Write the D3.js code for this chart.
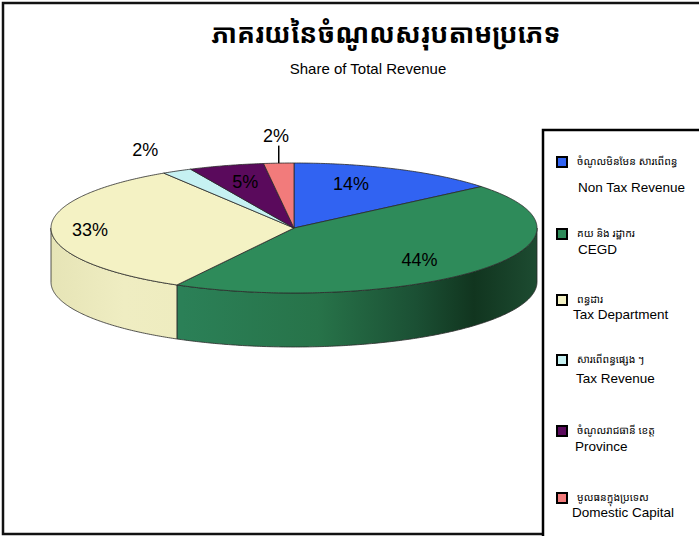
<!DOCTYPE html>
<html>
<head>
<meta charset="utf-8">
<script src="https://cdn.jsdelivr.net/npm/d3@7"></script>
<style>
  body { margin: 0; background: #fff; }
  svg { display: block; }
  text { font-family: "Liberation Sans", Arial, sans-serif; fill: #000; }
  .km { font-family: "Khmer OS", "Noto Sans Khmer", "Khmer OS System", "Noto Sans", sans-serif; }
</style>
</head>
<body>
<svg id="chart"></svg>
<script>
// ───────────────── DATA ─────────────────
const CATEGORIES_KM = [
  "ចំណូលមិនមែន សារពើពន្ធ",
  "គយ និង រដ្ឋាករ",
  "ពន្ធដារ",
  "សារពើពន្ធផ្សេង ៗ",
  "ចំណូលរាជធានី ខេត្ត",
  "មូលធនក្នុងប្រទេស"
];
const CATEGORIES_EN = [
  "Non Tax Revenue",
  "CEGD",
  "Tax Department",
  "Tax Revenue",
  "Province",
  "Domestic Capital"
];
const SHARES = [14, 44, 33, 2, 5, 2];

const TITLE_KM = "ភាគរយនៃចំណូលសរុបតាមប្រភេទ";
const SUBTITLE = "Share of Total Revenue";

// ───────────────── STYLE ─────────────────
const TOP_COLOR = ["#3163f2", "#2e8b5a", "#f4f2c4", "#c6f1f2", "#5a0a5c", "#f27b7b"];
const WALL_COLOR = ["#2550c8", "url(#greenWall)", "url(#yellowWall)", "#a9d8d9", "#3f0640", "#d46060"];

// label placement relative to the ellipse (x factor, y factor)
const LABEL_R = [[0.55, 0.75], [0.67, 0.77], [0.84, 0.8], [1.27, 1.37], [0.72, 0.74], [1.18, 1.42]];

// legend layout
const LEGEND_Y = [157, 229, 295, 355, 426, 493];
const LEGEND_EN_DY = [35, 25, 24, 28, 25, 24];
const LEGEND_EN_X = [578, 578, 573, 576, 575, 572];

// ───────────────── SIZE ─────────────────
const W = 699;
const H = 536;

const cx = 294, cy = 228;
const rx = 243, ry = 65;
const DEPTH = 54;

const svg = d3.select("#chart")
  .attr("width", W)
  .attr("height", H)
  .attr("viewBox", `0 0 ${W} ${H}`);

svg.append("rect")
  .attr("width", W).attr("height", H)
  .attr("fill", "#fff");

// ───── GRADIENTS ─────
const defs = svg.append("defs");

const gGreen = defs.append("linearGradient")
  .attr("id", "greenWall")
  .attr("gradientUnits", "userSpaceOnUse")
  .attr("x1", cx - rx).attr("x2", cx + rx)
  .attr("y1", 0).attr("y2", 0);
[[0.27, "#2b8057"], [0.55, "#277349"], [0.75, "#1b5034"], [0.87, "#11351f"], [1, "#1d4b31"]]
  .forEach(([o, c]) => gGreen.append("stop").attr("offset", o).attr("stop-color", c));

const gYellow = defs.append("linearGradient")
  .attr("id", "yellowWall")
  .attr("gradientUnits", "userSpaceOnUse")
  .attr("x1", cx - rx).attr("x2", cx + rx)
  .attr("y1", 0).attr("y2", 0);
[[0, "#e6e4b6"], [0.15, "#efedc2"], [0.27, "#eeecbf"]]
  .forEach(([o, c]) => gYellow.append("stop").attr("offset", o).attr("stop-color", c));

// ───── SCALES ─────
const xs = d3.scaleLinear().domain([-1, 1]).range([cx - rx, cx + rx]);
const ys = d3.scaleLinear().domain([-1, 1]).range([cy - ry, cy + ry]);

const px = (a, r = 1) => xs(r * Math.sin(a));
const py = (a, r = 1) => ys(-r * Math.cos(a));

const arcs = d3.pie().sort(null).value(d => d)(SHARES);

function arcPoints(a0, a1, dy = 0) {
  const n = Math.max(2, Math.ceil((a1 - a0) / 0.01));
  return d3.range(n + 1).map(i => {
    const a = a0 + (a1 - a0) * i / n;
    return [px(a), py(a) + dy];
  });
}

function topPath(d) {
  const pts = [[cx, cy]].concat(arcPoints(d.startAngle, d.endAngle));
  return d3.line()(pts) + "Z";
}

function wallPath(d) {
  const s = Math.max(d.startAngle, Math.PI / 2);
  const e = Math.min(d.endAngle, Math.PI * 1.5);
  if (e <= s) return null;
  const pts = arcPoints(s, e).concat(arcPoints(s, e, DEPTH).reverse());
  return d3.line()(pts) + "Z";
}

const pie = svg.append("g");

// ───── WALLS ─────
pie.selectAll(".wall")
  .data(arcs.filter(d => wallPath(d)))
  .join("path")
  .attr("class", "wall")
  .attr("d", wallPath)
  .attr("fill", d => WALL_COLOR[d.index])
  .attr("stroke", "#2a2a2a")
  .attr("stroke-width", 0.8)
  .attr("stroke-linejoin", "round");

// ───── TOPS ─────
pie.selectAll(".top")
  .data(arcs)
  .join("path")
  .attr("class", "top")
  .attr("d", topPath)
  .attr("fill", d => TOP_COLOR[d.index])
  .attr("stroke", "#2a2a2a")
  .attr("stroke-width", 0.8)
  .attr("stroke-linejoin", "round");

// ───── LABELS ─────
const mid = d => (d.startAngle + d.endAngle) / 2;

pie.selectAll(".lbl")
  .data(arcs)
  .join("text")
  .attr("class", "lbl")
  .attr("x", d => xs(LABEL_R[d.index][0] * Math.sin(mid(d))))
  .attr("y", d => ys(-LABEL_R[d.index][1] * Math.cos(mid(d))))
  .attr("text-anchor", "middle")
  .attr("dominant-baseline", "central")
  .style("font-size", "18px")
  .text(d => d.data + "%");

// leader line for the small slice on top
const lead = arcs[5];
pie.append("line")
  .attr("x1", px(mid(lead), 1)).attr("y1", py(mid(lead), 1))
  .attr("x2", px(mid(lead), 1)).attr("y2", py(mid(lead), 1.27))
  .attr("stroke", "#000")
  .attr("stroke-width", 1.5);

// ───── TITLE ─────
svg.append("text")
  .attr("class", "km")
  .attr("x", 386).attr("y", 43)
  .attr("text-anchor", "middle")
  .style("font-size", "26.5px")
  .style("font-weight", "700")
  .text(TITLE_KM);

svg.append("text")
  .attr("x", 368).attr("y", 74)
  .attr("text-anchor", "middle")
  .style("font-size", "15px")
  .text(SUBTITLE);

// ───── FRAME (open on the right) ─────
svg.append("path")
  .attr("d", `M${W},3H3V534H${W}`)
  .attr("fill", "none")
  .attr("stroke", "#111")
  .attr("stroke-width", 2.5);

// ───── LEGEND ─────
svg.append("rect")
  .attr("x", 543).attr("y", 130)
  .attr("width", 170).attr("height", 410)
  .attr("fill", "#fff")
  .attr("stroke", "#000")
  .attr("stroke-width", 2.5);

const leg = svg.selectAll(".leg")
  .data(CATEGORIES_EN)
  .join("g")
  .attr("class", "leg")
  .attr("transform", (d, i) => `translate(0,${LEGEND_Y[i]})`);

leg.append("rect")
  .attr("x", 557).attr("y", 0)
  .attr("width", 10).attr("height", 10)
  .attr("fill", (d, i) => TOP_COLOR[i])
  .attr("stroke", "#000")
  .attr("stroke-width", 2);

leg.append("text")
  .attr("class", "km")
  .attr("x", 577).attr("y", 8)
  .style("font-size", "10.5px")
  .text((d, i) => CATEGORIES_KM[i]);

leg.append("text")
  .attr("x", (d, i) => LEGEND_EN_X[i])
  .attr("y", (d, i) => LEGEND_EN_DY[i])
  .style("font-size", "13.5px")
  .text(d => d);
</script>
</body>
</html>
